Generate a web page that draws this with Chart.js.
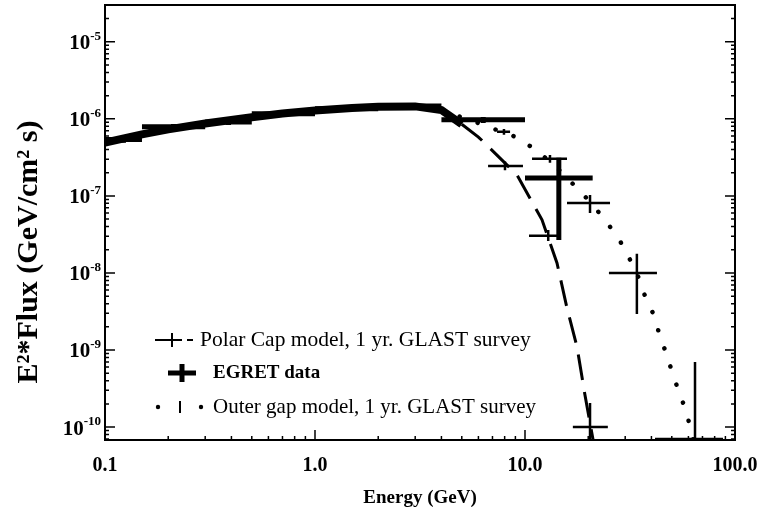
<!DOCTYPE html>
<html>
<head>
<meta charset="utf-8">
<script src="https://cdn.jsdelivr.net/npm/chart.js@4.4.1/dist/chart.umd.min.js"></script>
<style>
  html, body { margin: 0; padding: 0; background: #fff; }
</style>
</head>
<body>
<canvas id="chart" width="768" height="514"></canvas>
<script>
// axis ticks
const xTicks = [0.1, 1, 10, 100];
const xTickLabels = ["0.1", "1.0", "10.0", "100.0"];
const yTicks = [1e-10, 1e-9, 1e-8, 1e-7, 1e-6, 1e-5];
const yTickExps = ["-10", "-9", "-8", "-7", "-6", "-5"];

// polar cap model curve (GeV, GeV/cm2 s)
const pcModelE = [0.1, 0.15, 0.2, 0.3, 0.5, 0.7, 1.0, 1.5, 2.0, 3.0, 4.0, 5.0, 6.0, 6.45, 9.16, 12.05, 14.2, 15.85, 17.7, 19.3, 21.1, 22.5];
const pcModelF = [4.9e-7, 6.3e-7, 7.3e-7, 8.7e-7, 1.05e-6, 1.17e-6, 1.28e-6, 1.38e-6, 1.44e-6, 1.45e-6, 1.3e-6, 8.5e-7, 5.8e-7, 4.8e-7, 1.87e-7, 4.9e-8, 1.35e-8, 3.5e-9, 1.09e-9, 2.6e-10, 6.8e-11, 2.5e-11];

// outer gap model curve
const ogModelE = [4.0, 5.0, 6.0, 7.0, 8.0, 9.27, 11.4, 13.9, 16.9, 20.4, 24.0, 28.0, 31.3, 34.1, 37.3, 40.7, 43.5, 46.4, 50.1, 53.5, 57.8, 61.1, 65.0];
const ogModelF = [1.28e-6, 1.05e-6, 8.8e-7, 7.5e-7, 6.6e-7, 5.67e-7, 3.84e-7, 2.45e-7, 1.43e-7, 8.4e-8, 4.9e-8, 2.77e-8, 1.57e-8, 1.0e-8, 5.0e-9, 3.0e-9, 1.66e-9, 1.0e-9, 5.3e-10, 3.1e-10, 1.77e-10, 1.03e-10, 5e-11];

// polar cap, simulated 1 yr GLAST points
const pcE = [8.03, 12.9, 20.4];
const pcElo = [6.67, 10.45, 16.9];
const pcEhi = [9.78, 14.7, 24.8];
const pcF = [2.45e-7, 3.03e-8, 1.0e-10];
const pcFlo = [2.15e-7, 2.6e-8, 4e-11];
const pcFhi = [2.8e-7, 3.6e-8, 2.05e-10];

// outer gap, simulated 1 yr GLAST points
const ogE = [7.94, 13.15, 20.4, 34.1, 64.5];
const ogElo = [7.36, 10.8, 15.85, 25.1, 41.6];
const ogEhi = [8.49, 15.85, 25.4, 42.5, 87.7];
const ogF = [6.8e-7, 3.03e-7, 8.1e-8, 1.0e-8, 7.0e-11];
const ogFlo = [6.2e-7, 2.7e-7, 6.0e-8, 2.94e-9, 1e-11];
const ogFhi = [7.4e-7, 3.4e-7, 1.03e-7, 1.77e-8, 7.0e-10];

// EGRET data
const egElo = [0.1, 0.15, 0.3, 0.5, 1, 2, 4, 10];
const egEhi = [0.15, 0.3, 0.5, 1, 2, 4, 10, 21];
const egF = [5.4e-7, 7.9e-7, 9.1e-7, 1.16e-6, 1.35e-6, 1.47e-6, 9.7e-7, 1.71e-7];
const egFlo = [4.9e-7, 7.2e-7, 8.3e-7, 1.06e-6, 1.24e-6, 1.35e-6, 8.8e-7, 2.68e-8];
const egFhi = [5.9e-7, 8.6e-7, 9.9e-7, 1.26e-6, 1.46e-6, 1.59e-6, 1.06e-6, 3.12e-7];

const serif = "'Liberation Serif', 'Times New Roman', serif";
const bandEnd = 5.0; // model curves merge into a solid band below this energy

// horizontal + vertical bar for every point, gaps between them
function crossPoints(xs, xlo, xhi, ys, ylo, yhi) {
    const pts = [];
    for (let i = 0; i < xs.length; i++) {
        pts.push({ x: xlo[i], y: ys[i] }, { x: xhi[i], y: ys[i] }, { x: xhi[i], y: null });
        pts.push({ x: xs[i], y: ylo[i] }, { x: xs[i], y: yhi[i] }, { x: xs[i], y: null });
    }
    return pts;
}

const egE = egElo.map((lo, i) => Math.sqrt(lo * egEhi[i]));

const lineBase = { pointRadius: 0, borderColor: "#000", backgroundColor: "#000", fill: false, spanGaps: false, tension: 0 };

const datasets = [
    Object.assign({}, lineBase, {
        label: "Polar Cap model",
        data: pcModelE.map((e, i) => ({ x: e, y: pcModelF[i] })),
        borderWidth: 3,
        segment: {
            borderDash: (ctx) => ctx.p1.parsed.x <= bandEnd ? [] : [26, 12],
            borderWidth: (ctx) => ctx.p1.parsed.x <= bandEnd ? 8 : 3
        }
    }),
    Object.assign({}, lineBase, {
        label: "Outer gap model",
        data: ogModelE.map((e, i) => ({ x: e, y: ogModelF[i] })),
        borderWidth: 4.5,
        borderDash: [0.1, 19],
        borderCapStyle: "round"
    }),
    Object.assign({}, lineBase, {
        label: "Polar Cap GLAST",
        data: crossPoints(pcE, pcElo, pcEhi, pcF, pcFlo, pcFhi),
        borderWidth: 2.5
    }),
    Object.assign({}, lineBase, {
        label: "Outer gap GLAST",
        data: crossPoints(ogE, ogElo, ogEhi, ogF, ogFlo, ogFhi),
        borderWidth: 2.5
    }),
    Object.assign({}, lineBase, {
        label: "EGRET data",
        data: crossPoints(egE, egElo, egEhi, egF, egFlo, egFhi),
        borderWidth: 5
    })
];

// frame, inward ticks, y tick labels, y title and legend
const framePlugin = {
    id: "frame",
    afterDraw(chart) {
        const ctx = chart.ctx;
        const a = chart.chartArea;
        const xs = chart.scales.x;
        const ys = chart.scales.y;
        ctx.save();
        ctx.strokeStyle = "#000";
        ctx.fillStyle = "#000";
        ctx.lineWidth = 2;
        ctx.strokeRect(a.left, a.top, a.right - a.left, a.bottom - a.top);

        ctx.lineWidth = 1.5;
        for (let p = -11; p <= -4; p++) {
            for (let m = 1; m <= 9; m++) {
                const v = m * Math.pow(10, p);
                if (v < ys.min || v > ys.max) continue;
                const py = ys.getPixelForValue(v);
                const len = m === 1 ? 10 : 4;
                ctx.beginPath();
                ctx.moveTo(a.left, py); ctx.lineTo(a.left + len, py);
                ctx.moveTo(a.right, py); ctx.lineTo(a.right - len, py);
                ctx.stroke();
            }
        }
        for (let p = -1; p <= 2; p++) {
            for (let m = 1; m <= 9; m++) {
                const v = m * Math.pow(10, p);
                if (v < xs.min || v > xs.max) continue;
                const px = xs.getPixelForValue(v);
                const len = m === 1 ? 10 : 4;
                ctx.beginPath();
                ctx.moveTo(px, a.bottom); ctx.lineTo(px, a.bottom - len);
                ctx.stroke();
            }
        }

        // y tick labels: 10 with a raised exponent
        ctx.textBaseline = "middle";
        yTicks.forEach((v, i) => {
            const py = ys.getPixelForValue(v);
            ctx.font = "bold 13px " + serif;
            ctx.textAlign = "right";
            const expW = ctx.measureText(yTickExps[i]).width;
            ctx.fillText(yTickExps[i], a.left - 4, py - 5);
            ctx.font = "bold 21px " + serif;
            ctx.fillText("10", a.left - 4 - expW, py + 2);
        });

        // y axis title
        ctx.save();
        ctx.translate(29, 252);
        ctx.rotate(-Math.PI / 2);
        ctx.font = "bold 30px " + serif;
        ctx.textAlign = "center";
        ctx.textBaseline = "middle";
        ctx.fillText("E\u00B2*Flux (GeV/cm\u00B2 s)", 0, 0);
        ctx.restore();

        // legend
        ctx.lineWidth = 2;
        ctx.beginPath();
        ctx.moveTo(155, 340); ctx.lineTo(182, 340);
        ctx.moveTo(172, 333); ctx.lineTo(172, 347);
        ctx.moveTo(187, 340); ctx.lineTo(193, 340);
        ctx.stroke();
        ctx.lineWidth = 5;
        ctx.beginPath();
        ctx.moveTo(168, 373); ctx.lineTo(196, 373);
        ctx.moveTo(182, 364); ctx.lineTo(182, 382);
        ctx.stroke();
        ctx.lineWidth = 2;
        ctx.beginPath();
        ctx.moveTo(180, 401); ctx.lineTo(180, 413);
        ctx.stroke();
        ctx.beginPath(); ctx.arc(158, 407, 2.2, 0, Math.PI * 2); ctx.fill();
        ctx.beginPath(); ctx.arc(201, 407, 2.2, 0, Math.PI * 2); ctx.fill();

        ctx.textAlign = "left";
        ctx.textBaseline = "middle";
        ctx.font = "21.5px " + serif;
        ctx.fillText("Polar Cap model, 1 yr. GLAST survey", 200, 340);
        ctx.font = "bold 19px " + serif;
        ctx.fillText("EGRET data", 213, 373);
        ctx.font = "21px " + serif;
        ctx.fillText("Outer gap model, 1 yr. GLAST survey", 213, 407);
        ctx.restore();
    }
};

new Chart(document.getElementById("chart"), {
    type: "line",
    data: { datasets: datasets },
    plugins: [framePlugin],
    options: {
        responsive: false,
        animation: false,
        devicePixelRatio: 1,
        layout: { padding: { top: 5, right: 33, left: 0, bottom: 0 } },
        plugins: { legend: { display: false }, tooltip: { enabled: false } },
        scales: {
            x: {
                type: "logarithmic",
                min: 0.1,
                max: 100,
                afterBuildTicks: (scale) => { scale.ticks = xTicks.map((v) => ({ value: v })); },
                afterFit: (scale) => {
                    scale.height = 74;
                    scale.paddingLeft = 0;
                    scale.paddingRight = 0;
                },
                grid: { display: false },
                border: { display: false },
                ticks: {
                    autoSkip: false,
                    maxRotation: 0,
                    padding: 6,
                    color: "#000",
                    font: { family: serif, size: 20, weight: "bold" },
                    callback: (value) => xTickLabels[xTicks.indexOf(value)]
                },
                title: {
                    display: true,
                    text: "Energy (GeV)",
                    color: "#000",
                    font: { family: serif, size: 19, weight: "bold" },
                    padding: { top: 0, bottom: 5 }
                }
            },
            y: {
                type: "logarithmic",
                min: 6.8e-11,
                max: 3.0e-5,
                afterBuildTicks: (scale) => { scale.ticks = yTicks.map((v) => ({ value: v })); },
                afterFit: (scale) => {
                    scale.width = 105;
                    scale.paddingTop = 0;
                    scale.paddingBottom = 0;
                },
                grid: { display: false },
                border: { display: false },
                ticks: { display: false }
            }
        }
    }
});
</script>
</body>
</html>
